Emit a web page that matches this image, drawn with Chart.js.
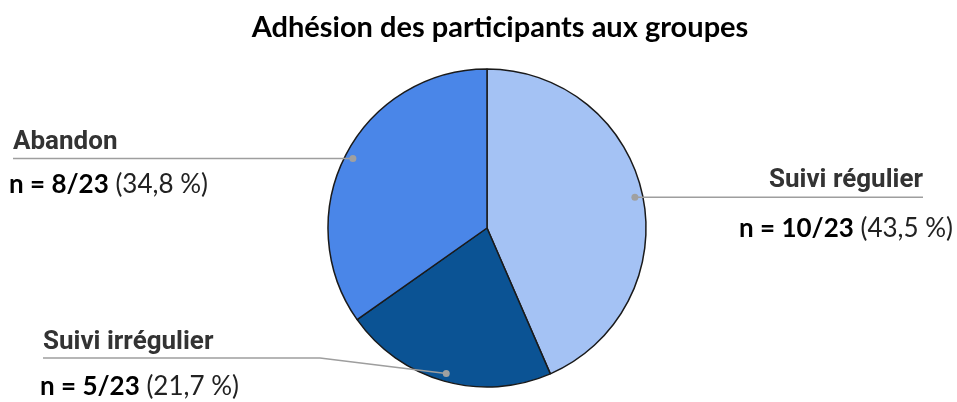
<!DOCTYPE html>
<html>
<head>
<meta charset="utf-8">
<script src="https://cdn.jsdelivr.net/npm/chart.js@4.4.0/dist/chart.umd.min.js"></script>
<style>
  html, body { margin: 0; padding: 0; background: #fff; }
  #wrap { width: 957px; height: 402px; position: relative; }
</style>
</head>
<body>
<div id="wrap"><canvas id="c"></canvas></div>
<script>
const title = "Adhésion des participants aux groupes";
const categories = ["Suivi régulier", "Suivi irrégulier", "Abandon"];
const counts = [10, 5, 8];
const total = 23;
const colors = ["#a4c2f4", "#0b5394", "#4a86e8"];

// where each label sits (layout only)
const labelLayout = [
  { side: "right", edge: 923, edge2: 953, nameY: 187, lineY: null, countY: 237 },
  { side: "left", edge: 43, edge2: 40, nameY: 349, lineY: 358, elbowX: 320, countY: 395 },
  { side: "left", edge: 13, edge2: 9, nameY: 149, lineY: null, countY: 193 },
];

const pct = (v) => (v / total * 100).toFixed(1).replace(".", ",") + " %";

const labelPlugin = {
  id: "labels",
  afterDraw(chart) {
    const ctx = chart.ctx;
    const meta = chart.getDatasetMeta(0);
    ctx.save();

    // title
    ctx.fillStyle = "#000";
    ctx.font = "bold 29px Lato";
    ctx.textAlign = "center";
    ctx.textBaseline = "alphabetic";
    ctx.fillText(title, 500, 37);

    meta.data.forEach((arc, i) => {
      const L = labelLayout[i];
      const mid = (arc.startAngle + arc.endAngle) / 2;
      const r = arc.outerRadius * 0.95;
      const dx = arc.x + Math.cos(mid) * r;
      const dy = arc.y + Math.sin(mid) * r;
      const ly = L.lineY == null ? dy : L.lineY;

      // leader line
      ctx.strokeStyle = "#9e9e9e";
      ctx.lineWidth = 1.6;
      ctx.beginPath();
      ctx.moveTo(L.edge, ly);
      if (L.elbowX != null) ctx.lineTo(L.elbowX, ly);
      ctx.lineTo(dx, dy);
      ctx.stroke();
      ctx.fillStyle = "#a0a0a0";
      ctx.beginPath();
      ctx.arc(dx, dy, 3.5, 0, Math.PI * 2);
      ctx.fill();

      // category name
      ctx.font = "bold 26px Roboto";
      ctx.fillStyle = "#333";
      ctx.textAlign = L.side === "right" ? "right" : "left";
      ctx.fillText(categories[i], L.edge, L.nameY);

      // count line
      const boldPart = "n = " + counts[i] + "/" + total;
      const regPart = " (" + pct(counts[i]) + ")";
      ctx.textAlign = "left";
      ctx.font = "bold 26px Lato";
      const w1 = ctx.measureText(boldPart).width;
      ctx.font = "26px Lato";
      const w2 = ctx.measureText(regPart).width;
      const x0 = L.side === "right" ? L.edge2 - w1 - w2 : L.edge2;
      ctx.font = "bold 26px Lato";
      ctx.fillStyle = "#000";
      ctx.fillText(boldPart, x0, L.countY);
      ctx.font = "26px Lato";
      ctx.fillStyle = "#222";
      ctx.fillText(regPart, x0 + w1, L.countY);
    });
    ctx.restore();
  },
};

new Chart(document.getElementById("c"), {
  type: "pie",
  data: {
    labels: categories,
    datasets: [{
      data: counts,
      backgroundColor: colors,
      borderColor: "#1a1a1a",
      borderWidth: 1.5,
    }],
  },
  options: {
    responsive: true,
    maintainAspectRatio: false,
    animation: false,
    radius: 159,
    layout: { padding: { top: 69, bottom: 15, left: 100, right: 83 } },
    plugins: {
      legend: { display: false },
      tooltip: { enabled: false },
      title: { display: false },
    },
  },
  plugins: [labelPlugin],
});
</script>
</body>
</html>
